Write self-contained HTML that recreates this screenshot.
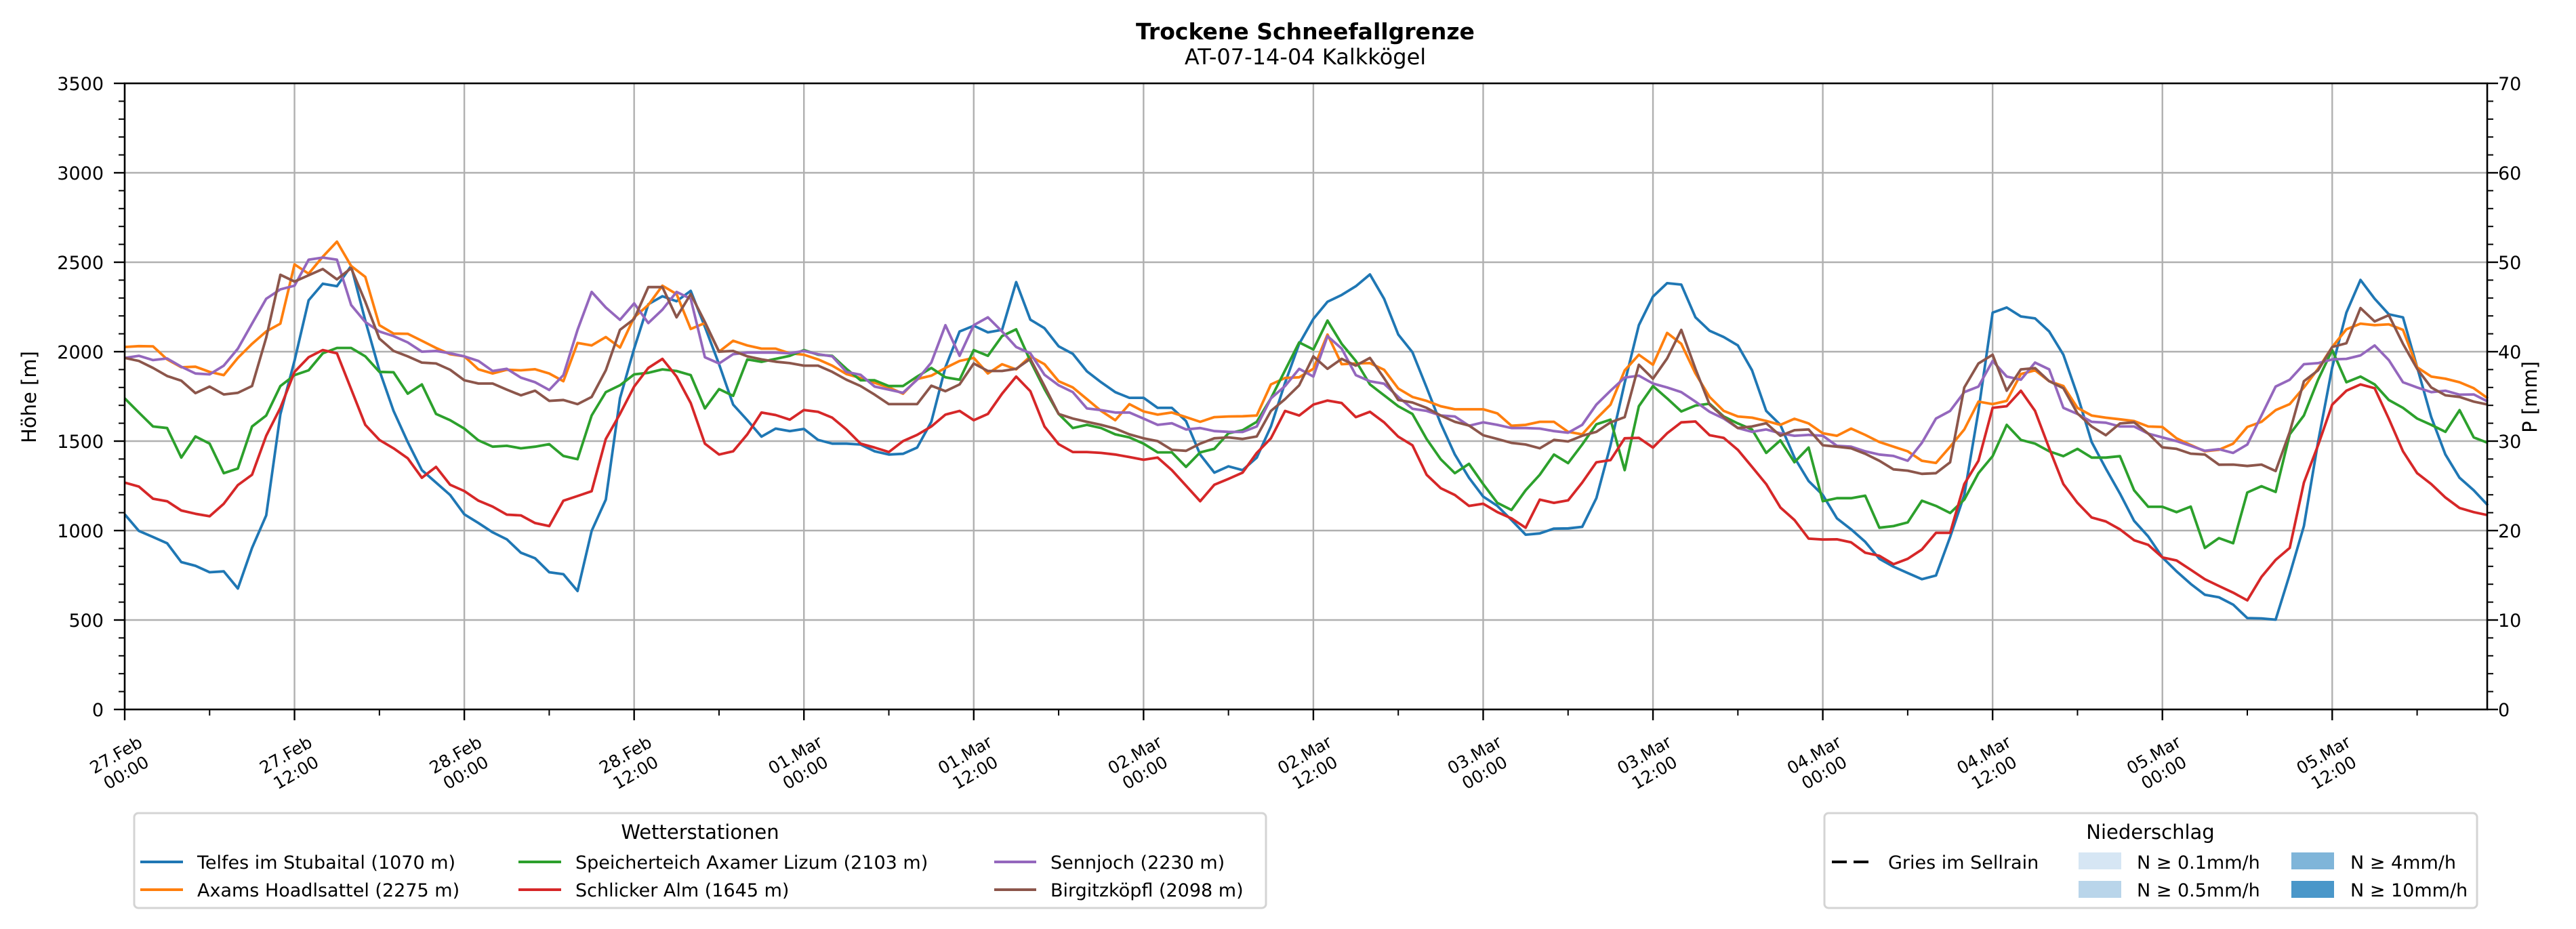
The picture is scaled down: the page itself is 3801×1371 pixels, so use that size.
<!DOCTYPE html>
<html><head><meta charset="utf-8"><style>
html,body{margin:0;padding:0;background:#fff;}
svg{display:block;font-family:"DejaVu Sans","Liberation Sans",sans-serif;}
</style></head><body>
<svg id="chart" width="3801" height="1371" viewBox="0 0 3801 1371" xmlns="http://www.w3.org/2000/svg">
<rect x="0" y="0" width="3801" height="1371" fill="#fff"/>
<text x="1926" y="58" font-size="33" font-weight="bold" text-anchor="middle">Trockene Schneefallgrenze</text>
<text x="1926" y="95" font-size="32" text-anchor="middle">AT-07-14-04 Kalkkögel</text>
<g id="grid"></g>
<g id="series"></g>
<g id="axes"></g>
<text transform="translate(53,586) rotate(-90)" font-size="29" text-anchor="middle">Höhe [m]</text>
<text transform="translate(3743,586) rotate(-90)" font-size="29" text-anchor="middle">P [mm]</text>

<g>
<rect x="198" y="1200" width="1670" height="140" rx="6" fill="#fff" stroke="#d4d4d4" stroke-width="3"/>
<text x="1033" y="1238" font-size="29" text-anchor="middle">Wetterstationen</text>
<g><line x1="207" y1="1272" x2="270" y2="1272" stroke="#1f77b4" stroke-width="4"/><text x="291" y="1282" font-size="27">Telfes im Stubaital (1070 m)</text></g>
<g><line x1="207" y1="1313" x2="270" y2="1313" stroke="#ff7f0e" stroke-width="4"/><text x="291" y="1323" font-size="27">Axams Hoadlsattel (2275 m)</text></g>
<g><line x1="765" y1="1272" x2="828" y2="1272" stroke="#2ca02c" stroke-width="4"/><text x="849" y="1282" font-size="27">Speicherteich Axamer Lizum (2103 m)</text></g>
<g><line x1="765" y1="1313" x2="828" y2="1313" stroke="#d62728" stroke-width="4"/><text x="849" y="1323" font-size="27">Schlicker Alm (1645 m)</text></g>
<g><line x1="1467" y1="1272" x2="1529" y2="1272" stroke="#9467bd" stroke-width="4"/><text x="1550" y="1282" font-size="27">Sennjoch (2230 m)</text></g>
<g><line x1="1467" y1="1313" x2="1529" y2="1313" stroke="#8c564b" stroke-width="4"/><text x="1550" y="1323" font-size="27">Birgitzköpfl (2098 m)</text></g>
</g>

<g>
<rect x="2692" y="1200" width="963" height="140" rx="6" fill="#fff" stroke="#d4d4d4" stroke-width="3"/>
<text x="3173" y="1238" font-size="29" text-anchor="middle">Niederschlag</text>
<g><line x1="2703" y1="1272" x2="2760" y2="1272" stroke="#000" stroke-width="4" stroke-dasharray="22,10"/><text x="2786" y="1282" font-size="27">Gries im Sellrain</text></g>
<g><rect x="3067" y="1258" width="63" height="25" fill="#d6e6f4"/><text x="3153" y="1282" font-size="27">N ≥ 0.1mm/h</text></g>
<g><rect x="3067" y="1300" width="63" height="25" fill="#b9d5ea"/><text x="3153" y="1323" font-size="27">N ≥ 0.5mm/h</text></g>
<g><rect x="3381" y="1258" width="63" height="25" fill="#7fb5d9"/><text x="3468" y="1282" font-size="27">N ≥ 4mm/h</text></g>
<g><rect x="3381" y="1300" width="63" height="25" fill="#4a97c9"/><text x="3468" y="1323" font-size="27">N ≥ 10mm/h</text></g>
</g>
</svg>
<script>
const xTickLabels1 = ["27.Feb","27.Feb","28.Feb","28.Feb","01.Mar","01.Mar","02.Mar","02.Mar","03.Mar","03.Mar","04.Mar","04.Mar","05.Mar","05.Mar"];
const xTickLabels2 = ["00:00","12:00","00:00","12:00","00:00","12:00","00:00","12:00","00:00","12:00","00:00","12:00","00:00","12:00"];
const yTicks = [0,500,1000,1500,2000,2500,3000,3500];
const y2Ticks = [0,10,20,30,40,50,60,70];
const seriesNames = ["telfes","axams","speicherteich","schlicker","sennjoch","birgitzkoepfl"];
const seriesColors = ["#1f77b4","#ff7f0e","#2ca02c","#d62728","#9467bd","#8c564b"];
const telfes = [1091,998,964,929,824,803,767,772,676,903,1085,1650,1950,2287,2380,2366,2479,2174,1896,1669,1495,1338,1268,1199,1091,1042,990,951,876,845,767,756,662,998,1173,1739,2017,2265,2310,2282,2340,2139,1930,1704,
1617,1525,1570,1556,1568,1507,1486,1486,1481,1443,1425,1429,1464,1608,1913,2113,2145,2108,2122,2389,2179,2131,2030,1988,1890,1829,1774,1742,1742,1686,1686,1612,1425,1324,1359,1338,1408,1582,1826,2044,2183,2279,
2317,2366,2432,2296,2096,1997,1800,1599,1425,1295,1190,1138,1059,977,984,1011,1012,1021,1181,1477,1826,2148,2308,2383,2375,2192,2117,2082,2035,1896,1669,1591,1408,1277,1199,1068,1007,937,842,798,763,728,
749,964,1199,1669,2218,2247,2197,2186,2113,1983,1756,1495,1347,1207,1054,967,850,772,702,641,627,586,511,509,502,755,1025,1495,1913,2218,2401,2296,2209,2192,1913,1634,1425,1295,1225,1141];
const axams = [2026,2031,2030,1957,1913,1916,1887,1869,1965,2044,2113,2157,2488,2436,2531,2615,2479,2418,2148,2101,2100,2061,2021,1986,1974,1901,1878,1899,1896,1902,1878,1835,2049,2035,2082,2023,2192,2261,2369,2322,2127,2160,2000,2061,
2035,2017,2017,1991,1983,1957,1922,1875,1853,1826,1800,1765,1847,1866,1909,1948,1965,1878,1930,1901,1974,1930,1835,1800,1735,1669,1617,1707,1666,1648,1660,1634,1608,1634,1638,1639,1643,1817,1853,1857,1904,2096,
1930,1934,1936,1899,1794,1747,1725,1695,1678,1678,1678,1655,1586,1591,1608,1608,1552,1538,1625,1704,1895,1983,1927,2105,2044,1878,1747,1669,1638,1631,1613,1591,1625,1599,1544,1530,1570,1535,1495,1469,1443,1390,
1378,1469,1565,1721,1707,1725,1875,1896,1835,1808,1686,1643,1631,1622,1612,1582,1579,1516,1478,1443,1452,1486,1579,1608,1673,1707,1800,1904,2026,2125,2157,2148,2153,2122,1913,1861,1849,1829,1796,1739];
const speicherteich = [1739,1660,1582,1573,1408,1526,1486,1321,1347,1582,1643,1808,1869,1896,1991,2021,2021,1974,1887,1885,1765,1817,1652,1617,1570,1504,1469,1474,1460,1469,1483,1417,1399,1643,1774,1812,1873,1882,1901,1892,1869,1683,1791,1753,
1957,1943,1960,1977,2009,1983,1977,1904,1840,1840,1808,1808,1861,1909,1857,1843,2009,1977,2087,2125,1948,1791,1652,1573,1591,1573,1538,1521,1486,1437,1437,1356,1437,1457,1544,1561,1608,1739,1896,2052,2012,2174,
2044,1948,1817,1756,1695,1652,1512,1399,1321,1373,1260,1155,1115,1225,1312,1425,1377,1481,1594,1620,1338,1695,1808,1739,1666,1699,1709,1638,1599,1565,1434,1504,1382,1464,1164,1181,1181,1195,1016,1025,1046,1167,
1138,1098,1173,1321,1416,1591,1507,1486,1443,1416,1457,1408,1408,1416,1225,1133,1133,1103,1134,903,958,929,1213,1248,1216,1538,1643,1843,2009,1829,1861,1817,1730,1686,1626,1591,1552,1673,1521,1490];
const schlicker = [1268,1246,1178,1164,1112,1094,1080,1150,1254,1312,1530,1686,1887,1969,2009,1991,1791,1591,1507,1460,1404,1295,1356,1256,1221,1167,1134,1089,1085,1042,1025,1167,1193,1220,1512,1652,1805,1909,1960,1861,1713,1486,1425,1443,
1538,1660,1646,1620,1674,1664,1631,1565,1486,1464,1439,1500,1535,1582,1648,1669,1617,1652,1765,1861,1779,1582,1483,1439,1439,1434,1425,1411,1396,1408,1338,1251,1164,1256,1289,1324,1434,1516,1669,1643,1704,1727,
1713,1634,1664,1605,1525,1477,1312,1237,1199,1138,1150,1103,1068,1016,1173,1155,1169,1268,1382,1394,1516,1518,1464,1544,1605,1610,1533,1518,1451,1356,1260,1129,1059,955,950,951,934,876,859,812,842,894,
987,987,1260,1390,1686,1695,1782,1669,1460,1260,1155,1073,1051,1007,946,920,850,833,781,728,690,653,610,741,836,903,1268,1477,1704,1782,1817,1796,1625,1443,1321,1260,1185,1126,1103,1086];
const sennjoch = [1965,1977,1953,1962,1916,1878,1873,1922,2017,2157,2296,2348,2369,2514,2526,2514,2261,2166,2113,2087,2052,2000,2004,1991,1974,1948,1892,1904,1855,1829,1786,1869,2122,2334,2247,2178,2270,2160,2235,2334,2296,1969,1934,1986,
1995,1995,1995,1991,2004,1986,1974,1887,1871,1805,1788,1770,1843,1939,2148,1977,2148,2192,2113,2026,1991,1871,1812,1774,1683,1673,1660,1660,1626,1591,1600,1565,1573,1556,1552,1551,1582,1739,1808,1904,1861,2087,
2017,1869,1835,1821,1747,1681,1669,1643,1638,1586,1605,1591,1573,1573,1570,1556,1547,1591,1704,1782,1855,1866,1822,1800,1774,1721,1664,1626,1573,1552,1565,1544,1530,1535,1530,1474,1469,1443,1425,1417,1390,1490,
1626,1669,1774,1805,1948,1861,1843,1939,1901,1686,1652,1608,1603,1582,1582,1542,1521,1500,1474,1446,1455,1434,1481,1643,1805,1843,1930,1936,1957,1960,1979,2035,1953,1829,1800,1774,1782,1760,1761,1721];
const birgitzkoepfl = [1965,1948,1909,1864,1838,1768,1805,1761,1770,1808,2078,2430,2392,2427,2462,2404,2467,2279,2073,2004,1974,1939,1934,1899,1840,1822,1822,1788,1756,1782,1725,1730,1707,1747,1896,2122,2183,2361,2361,2192,2322,2166,2000,2004,
1974,1957,1944,1936,1922,1922,1887,1843,1808,1760,1707,1707,1707,1810,1779,1817,1934,1892,1892,1904,1960,1808,1652,1626,1608,1591,1570,1538,1516,1500,1451,1446,1486,1516,1521,1512,1526,1669,1735,1812,1974,1904,
1960,1922,1965,1852,1730,1716,1686,1643,1608,1587,1533,1512,1490,1481,1460,1507,1498,1530,1552,1605,1634,1927,1849,1962,2122,1904,1704,1634,1573,1582,1600,1530,1561,1565,1477,1469,1460,1429,1390,1342,1335,1317,
1321,1382,1800,1934,1983,1782,1901,1908,1835,1796,1655,1582,1533,1599,1605,1542,1465,1457,1430,1425,1368,1369,1361,1369,1333,1551,1835,1896,2026,2047,2244,2169,2204,2044,1904,1800,1756,1747,1721,1704];
const seriesData = [telfes, axams, speicherteich, schlicker, sennjoch, birgitzkoepfl];

const NS = "http://www.w3.org/2000/svg";
const L = 184, R = 3670, T = 123, B = 1047;
const hourMax = 167;
const pxPerHour = 20.88;
function xScale(h){ return L + h * pxPerHour; }
function yScale(v){ return B - v * (B - T) / 3500; }
function y2Scale(v){ return B - v * (B - T) / 70; }
function mk(tag, attrs, parent){ const e = document.createElementNS(NS, tag); for (const k in attrs) e.setAttribute(k, attrs[k]); parent.appendChild(e); return e; }

const grid = document.getElementById('grid');
const axes = document.getElementById('axes');
const series = document.getElementById('series');

// horizontal grid + y ticks
yTicks.forEach(function(v){
  const y = yScale(v);
  if (v > 0 && v < 3500) {
    const g = mk('line', {x1:L, x2:R, y1:y, y2:y, stroke:'#b0b0b0', 'stroke-width':2.4}, grid);
    
    
  }
  mk('line', {x1:L-16, x2:L, y1:y, y2:y, stroke:'#000', 'stroke-width':2.4}, axes);
  const t = mk('text', {x:L-31, y:y+10, 'font-size':27, 'text-anchor':'end'}, axes);
  t.textContent = v;
  
  
});
for (let v = 0; v <= 3500; v += 100) {
  if (v % 500 === 0) continue;
  const y = yScale(v);
  mk('line', {x1:L-9, x2:L, y1:y, y2:y, stroke:'#000', 'stroke-width':2}, axes);
  mk('line', {x1:R, x2:R+9, y1:y, y2:y, stroke:'#000', 'stroke-width':2}, axes);
}
y2Ticks.forEach(function(v){
  const y = y2Scale(v);
  mk('line', {x1:R, x2:R+16, y1:y, y2:y, stroke:'#000', 'stroke-width':2.4}, axes);
  const t = mk('text', {x:R+16, y:y+10, 'font-size':27, 'text-anchor':'start'}, axes);
  t.textContent = v;
  
  
});
// vertical grid + x ticks
xTickLabels1.forEach(function(lab, i){
  const x = xScale(i * 12);
  if (i > 0) {
    const g = mk('line', {x1:x, x2:x, y1:T, y2:B, stroke:'#b0b0b0', 'stroke-width':2.4}, grid);
    
    
  }
  mk('line', {x1:x, x2:x, y1:B, y2:B+16, stroke:'#000', 'stroke-width':2.4}, axes);
  const t = mk('text', {transform:'translate(' + (x - 6) + ',1126) rotate(-30)', 'font-size':25, 'text-anchor':'middle'}, axes);
  
  
  const s1 = mk('tspan', {x:0, y:-5}, t); s1.textContent = lab;
  const s2 = mk('tspan', {x:0, y:25}, t); s2.textContent = xTickLabels2[i];
});
for (let h = 6; h <= hourMax; h += 12) {
  const x = xScale(h);
  mk('line', {x1:x, x2:x, y1:B, y2:B+9, stroke:'#000', 'stroke-width':2}, axes);
}
// frame
const frame = mk('rect', {x:L, y:T, width:R-L, height:B-T, fill:'none', stroke:'#000', 'stroke-width':2.6}, axes);



// series
seriesData.forEach(function(arr, si){
  let d = '';
  arr.forEach(function(v, i){ d += (i ? 'L' : 'M') + xScale(i).toFixed(1) + ',' + yScale(v).toFixed(1); });
  const p = mk('path', {d:d, fill:'none', stroke:seriesColors[si], 'stroke-width':3.8, 'stroke-linejoin':'round'}, series);
  
  
});
</script>
</body></html>
